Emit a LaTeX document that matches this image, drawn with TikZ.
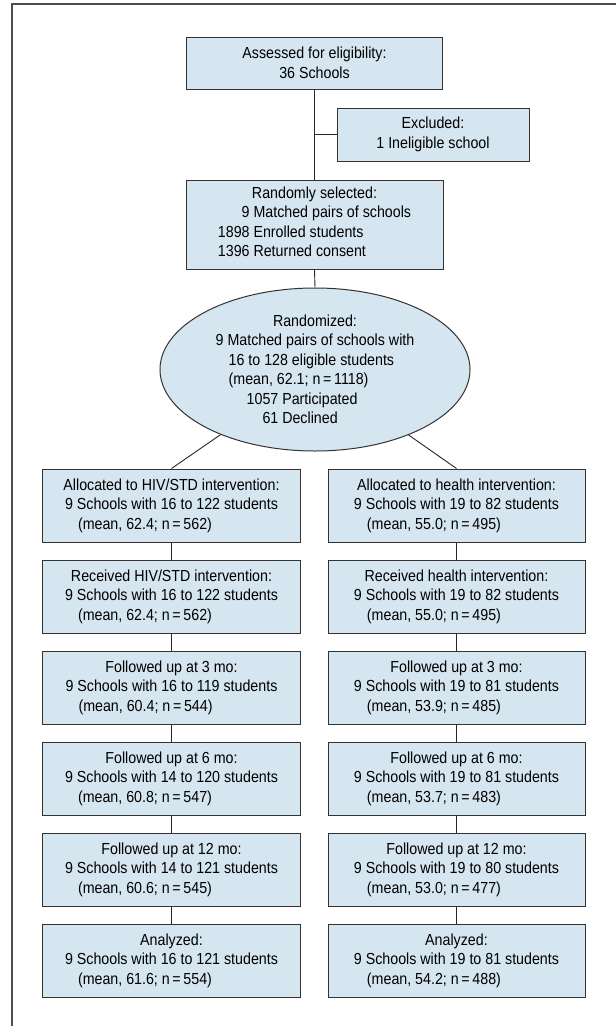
\documentclass[tikz,border=0pt]{standalone}
\usepackage{fontspec}
\usetikzlibrary{shapes.geometric}
\newfontfamily\condfont[FakeStretch=0.89]{Liberation Sans}
\definecolor{boxblue}{RGB}{213,230,240}
\newlength\linewd
\newcommand{\indline}[3]{\settowidth{\linewd}{#1}\makebox[\linewd][l]{\hspace*{#2}#3}}
\newcommand{\boxtext}[3]{#1\\#2\\\indline{#2}{13bp}{#3}}

\begin{document}
\begin{tikzpicture}[x=1bp, y=-1bp,
  box/.style={draw=black!80, line width=1bp, fill=boxblue, align=center,
    font=\condfont\fontsize{16bp}{19.5bp}\selectfont, inner sep=0pt,
    minimum width=257bp, minimum height=73bp},
  link/.style={draw=black!85, line width=0.9bp}]
\useasboundingbox (0,0) rectangle (616,1026);
\def\xleft{171.5}
\def\xright{456.5}

\draw[black!70, line width=1.6bp] (616,4) -- (12,4) -- (12,1026);

\node[box, minimum width=256bp, minimum height=52bp] (A) at (314.5,63)
  {Assessed for eligibility:\\36 Schools};
\node[box, minimum width=192bp, minimum height=53bp] (X) at (433,134.5)
  {Excluded:\\1 Ineligible school};
\node[box, minimum height=89bp] (S) at (314.5,224.5)
  {Randomly selected:\\\begin{tabular}[t]{@{}r@{ }l@{}}9&Matched pairs of schools\\
   1898&Enrolled students\\1396&Returned consent\end{tabular}};
\node[box, ellipse, minimum width=310bp, minimum height=163bp] (R) at (315,369.5)
  {Randomized:\\9 Matched pairs of schools with\\
   \indline{9 Matched pairs of schools with}{13bp}{16 to 128 eligible students}\\
   \indline{9 Matched pairs of schools with}{13bp}{(mean, 62.1; n\,=\,1118)}\\
   \indline{9 Matched pairs of schools with}{31bp}{1057 Participated}\\
   \indline{9 Matched pairs of schools with}{31bp}{\hphantom{10}61 Declined}};

% HIV/STD arm
\node[box] (L1) at (\xleft,505.5) {\boxtext{Allocated to HIV/STD intervention:}{9 Schools with 16 to 122 students}{(mean, 62.4; n\,=\,562)}};
\node[box] (L2) at (\xleft,596.5) {\boxtext{Received HIV/STD intervention:}{9 Schools with 16 to 122 students}{(mean, 62.4; n\,=\,562)}};
\node[box] (L3) at (\xleft,687.5) {\boxtext{Followed up at 3 mo:}{9 Schools with 16 to 119 students}{(mean, 60.4; n\,=\,544)}};
\node[box] (L4) at (\xleft,778.5) {\boxtext{Followed up at 6 mo:}{9 Schools with 14 to 120 students}{(mean, 60.8; n\,=\,547)}};
\node[box] (L5) at (\xleft,869.5) {\boxtext{Followed up at 12 mo:}{9 Schools with 14 to 121 students}{(mean, 60.6; n\,=\,545)}};
\node[box] (L6) at (\xleft,960.5) {\boxtext{Analyzed:}{9 Schools with 16 to 121 students}{(mean, 61.6; n\,=\,554)}};

% health arm
\node[box] (H1) at (\xright,505.5) {\boxtext{Allocated to health intervention:}{9 Schools with 19 to 82 students}{(mean, 55.0; n\,=\,495)}};
\node[box] (H2) at (\xright,596.5) {\boxtext{Received health intervention:}{9 Schools with 19 to 82 students}{(mean, 55.0; n\,=\,495)}};
\node[box] (H3) at (\xright,687.5) {\boxtext{Followed up at 3 mo:}{9 Schools with 19 to 81 students}{(mean, 53.9; n\,=\,485)}};
\node[box] (H4) at (\xright,778.5) {\boxtext{Followed up at 6 mo:}{9 Schools with 19 to 81 students}{(mean, 53.7; n\,=\,483)}};
\node[box] (H5) at (\xright,869.5) {\boxtext{Followed up at 12 mo:}{9 Schools with 19 to 80 students}{(mean, 53.0; n\,=\,477)}};
\node[box] (H6) at (\xright,960.5) {\boxtext{Analyzed:}{9 Schools with 19 to 81 students}{(mean, 54.2; n\,=\,488)}};

\coordinate (J) at (A.south |- X.west);
\draw[link] (A.south) -- (S.north);
\draw[link] (J) -- (X.west);
\draw[link] (S.south) -- (R.north);
\draw[link] (R) -- (L1.north);
\draw[link] (R) -- (H1.north);
\draw[link] (L1) -- (L2) (L2) -- (L3) (L3) -- (L4) (L4) -- (L5) (L5) -- (L6);
\draw[link] (H1) -- (H2) (H2) -- (H3) (H3) -- (H4) (H4) -- (H5) (H5) -- (H6);
\end{tikzpicture}
\end{document}
